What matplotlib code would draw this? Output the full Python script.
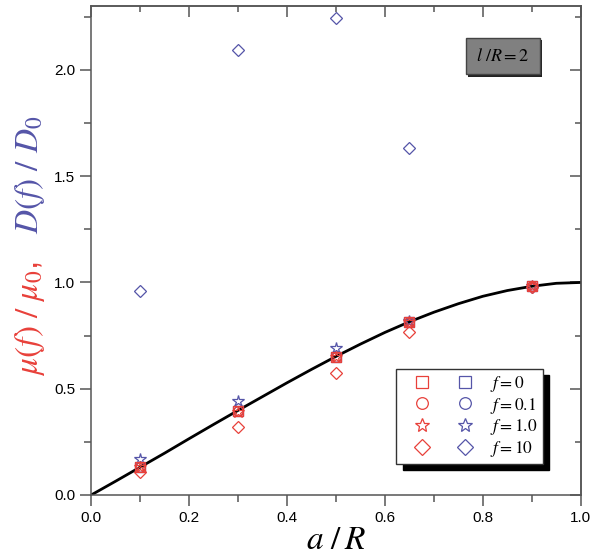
import numpy as np
import matplotlib.pyplot as plt
import matplotlib.patheffects as pe
from matplotlib.legend_handler import HandlerTuple
from matplotlib.ticker import MultipleLocator

plt.rcParams['font.family'] = ['Liberation Sans', 'DejaVu Sans']
plt.rcParams['mathtext.fontset'] = 'stix'

# a/R positions of the simulations
a_R = [0.1, 0.3, 0.5, 0.65, 0.9]

# mobility mu(f)/mu0 (red)
mu_f0 = [0.133, 0.396, 0.651, 0.816, 0.982]
mu_f01 = [0.133, 0.396, 0.651, 0.816, 0.982]
mu_f1 = [0.130, 0.392, 0.648, 0.814, 0.982]
mu_f10 = [0.110, 0.322, 0.576, 0.766, 0.980]

# diffusion D(f)/D0 (blue)
D_f0 = [0.133, 0.396, 0.651, 0.816, 0.982]
D_f01 = [0.133, 0.396, 0.651, 0.816, 0.982]
D_f1 = [0.168, 0.444, 0.691, 0.820, 0.985]
D_f10 = [0.961, 2.096, 2.245, 1.633, 0.980]

# theory curve
curve_x = [0.0, 0.05, 0.1, 0.15, 0.2, 0.25, 0.3, 0.35, 0.4, 0.45, 0.5,
           0.55, 0.6, 0.65, 0.7, 0.75, 0.8, 0.85, 0.9, 0.95, 1.0]
curve_y = [0.0, 0.065, 0.131, 0.197, 0.265, 0.332, 0.398, 0.463, 0.528, 0.591, 0.652,
           0.710, 0.765, 0.815, 0.860, 0.900, 0.935, 0.962, 0.982, 0.996, 1.0]

red = '#e8403a'
blue = '#5555a8'

fig = plt.figure(figsize=(6.0, 5.59), dpi=100)
ax = fig.add_axes([0.152, 0.1145, 0.816, 0.8745])

ax.plot(curve_x, curve_y, color='black', lw=2.0, zorder=2)

ms = 7
mew = 0.9
kw = dict(ls='none', mfc='none', mew=mew, ms=ms, zorder=3)
b0, = ax.plot(a_R, D_f0, marker='s', mec=blue, **kw)
b1, = ax.plot(a_R, D_f01, marker='o', mec=blue, **kw)
b2, = ax.plot(a_R, D_f1, marker='*', mec=blue, **dict(kw, ms=ms + 2))
b3, = ax.plot(a_R, D_f10, marker='D', mec=blue, **dict(kw, ms=ms - 0.5))
r0, = ax.plot(a_R, mu_f0, marker='s', mec=red, **kw)
r1, = ax.plot(a_R, mu_f01, marker='o', mec=red, **kw)
r2, = ax.plot(a_R, mu_f1, marker='*', mec=red, **dict(kw, ms=ms + 2))
r3, = ax.plot(a_R, mu_f10, marker='D', mec=red, **dict(kw, ms=ms - 0.5))

ax.set_xlim(0, 1.0)
ax.set_ylim(0, 2.3)
ax.xaxis.set_major_locator(MultipleLocator(0.2))
ax.xaxis.set_minor_locator(MultipleLocator(0.1))
ax.yaxis.set_major_locator(MultipleLocator(0.5))
ax.yaxis.set_minor_locator(MultipleLocator(0.25))
ax.tick_params(which='both', direction='out', top=False, right=False,
               labelsize=11, color='#555555', width=1.1)
ax.tick_params(which='major', length=8)
ax.tick_params(which='minor', length=5)
# inward ticks on top/right
ax2 = ax.secondary_xaxis('top')
ax2.xaxis.set_major_locator(MultipleLocator(0.2))
ax2.xaxis.set_minor_locator(MultipleLocator(0.1))
ax2.tick_params(which='both', direction='in', labeltop=False, color='#555555', width=1.1)
ax2.tick_params(which='major', length=8)
ax2.tick_params(which='minor', length=4)
ax3 = ax.secondary_yaxis('right')
ax3.yaxis.set_major_locator(MultipleLocator(0.5))
ax3.yaxis.set_minor_locator(MultipleLocator(0.25))
ax3.tick_params(which='both', direction='in', labelright=False, color='#555555', width=1.1)
ax3.tick_params(which='major', length=8)
ax3.tick_params(which='minor', length=4)
for sp in list(ax.spines.values()) + [ax2.spines['top'], ax3.spines['right']]:
    sp.set_color('#555555')
    sp.set_linewidth(1.1)

ax.set_xlabel(r'$a\ /\,R$', fontsize=24, labelpad=0)
ax.text(-0.124, 0.36, r'$\mu(f)\ /\ \mu_0$,', color=red, fontsize=24,
        rotation=90, ha='center', va='center', transform=ax.transAxes)
ax.text(-0.124, 0.655, r'$D(f)\ /\ D_0$', color=blue, fontsize=24,
        rotation=90, ha='center', va='center', transform=ax.transAxes)

box = ax.text(0.841, 0.898, r'$l\ /R = 2$', fontsize=13, ha='center', va='center',
              transform=ax.transAxes,
              bbox=dict(boxstyle='square,pad=0.55', fc='#808080', ec='#444444', lw=1.0))
box.get_bbox_patch().set_path_effects(
    [pe.SimplePatchShadow(offset=(1.5, -1.5), shadow_rgbFace='#222222', alpha=1), pe.Normal()])

handles = [(r0, b0), (r1, b1), (r2, b2), (r3, b3)]
labels = [r'$f = 0$', r'$f = 0.1$', r'$f = 1.0$', r'$f = 10$']
leg = ax.legend(handles, labels, handler_map={tuple: HandlerTuple(ndivide=None, pad=0.2)},
                loc='lower right', bbox_to_anchor=(0.922, 0.063), borderaxespad=0,
                fontsize=12.5, markerscale=1.2, handlelength=4.8, handletextpad=0.28,
                labelspacing=0.1, borderpad=0.3, fancybox=False,
                edgecolor='#333333', framealpha=1,
                shadow={'ox': 4.5, 'oy': -4.5, 'color': 'black', 'alpha': 1})
leg.get_frame().set_linewidth(1.0)

fig.savefig('out.png', dpi=100)
